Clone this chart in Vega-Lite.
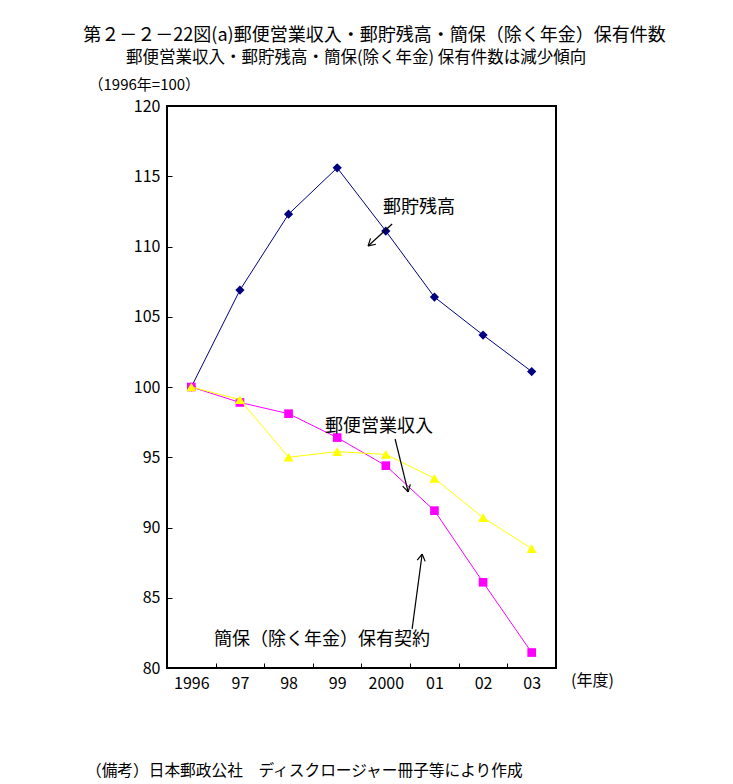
{
  "$schema": "https://vega.github.io/schema/vega-lite/v6.json",
  "width": 389,
  "height": 562,
  "autosize": {"type": "none"},
  "padding": {"left": 167, "top": 106, "right": 177, "bottom": 116},
  "background": "white",
  "config": {
    "font": "Noto Sans CJK JP",
    "view": {"stroke": "black", "strokeWidth": 2},
    "axis": {
      "grid": false,
      "domain": false,
      "labelFont": "Noto Sans CJK JP",
      "labelFontSize": 16,
      "labelColor": "black",
      "tickColor": "black",
      "tickSize": -5,
      "tickWidth": 1,
      "titleFont": "Noto Sans CJK JP",
      "titleFontWeight": "normal",
      "titleColor": "black"
    }
  },
  "title": {
    "text": "第２－２－22図(a)郵便営業収入・郵貯残高・簡保（除く年金）保有件数",
    "font": "Noto Sans CJK JP",
    "fontSize": 18,
    "fontWeight": "normal",
    "color": "black",
    "anchor": "middle",
    "frame": "group",
    "dx": 13,
    "offset": 5
  },
  "datasets": {
    "series": [
      {"series": "郵貯残高", "i": 0, "v": 100},
      {"series": "郵貯残高", "i": 1, "v": 106.9},
      {"series": "郵貯残高", "i": 2, "v": 112.3},
      {"series": "郵貯残高", "i": 3, "v": 115.6},
      {"series": "郵貯残高", "i": 4, "v": 111.1},
      {"series": "郵貯残高", "i": 5, "v": 106.4},
      {"series": "郵貯残高", "i": 6, "v": 103.7},
      {"series": "郵貯残高", "i": 7, "v": 101.1},
      {"series": "郵便営業収入", "i": 0, "v": 100},
      {"series": "郵便営業収入", "i": 1, "v": 98.9},
      {"series": "郵便営業収入", "i": 2, "v": 98.1},
      {"series": "郵便営業収入", "i": 3, "v": 96.4},
      {"series": "郵便営業収入", "i": 4, "v": 94.4},
      {"series": "郵便営業収入", "i": 5, "v": 91.2},
      {"series": "郵便営業収入", "i": 6, "v": 86.1},
      {"series": "郵便営業収入", "i": 7, "v": 81.1},
      {"series": "簡保（除く年金）保有契約", "i": 0, "v": 100},
      {"series": "簡保（除く年金）保有契約", "i": 1, "v": 99.1},
      {"series": "簡保（除く年金）保有契約", "i": 2, "v": 95.0},
      {"series": "簡保（除く年金）保有契約", "i": 3, "v": 95.4},
      {"series": "簡保（除く年金）保有契約", "i": 4, "v": 95.2},
      {"series": "簡保（除く年金）保有契約", "i": 5, "v": 93.5},
      {"series": "簡保（除く年金）保有契約", "i": 6, "v": 90.7},
      {"series": "簡保（除く年金）保有契約", "i": 7, "v": 88.5}
    ],
    "arrows": [
      {"x": 4.130, "y": 111.60, "x2": 3.636, "y2": 110.04},
      {"x": 3.636, "y": 110.04, "x2": 3.796, "y2": 110.16},
      {"x": 3.636, "y": 110.04, "x2": 3.685, "y2": 110.58},
      {"x": 4.191, "y": 96.30, "x2": 4.459, "y2": 92.53},
      {"x": 4.459, "y": 92.53, "x2": 4.504, "y2": 93.07},
      {"x": 4.459, "y": 92.53, "x2": 4.346, "y2": 92.94},
      {"x": 4.541, "y": 82.78, "x2": 4.747, "y2": 88.11},
      {"x": 4.747, "y": 88.11, "x2": 4.646, "y2": 87.67},
      {"x": 4.747, "y": 88.11, "x2": 4.809, "y2": 87.59}
    ],
    "labels": [
      {"x": 3.944, "y": 112.74, "label": "郵貯残高"},
      {"x": 2.751, "y": 97.15, "label": "郵便営業収入"},
      {"x": 0.467, "y": 81.99, "label": "簡保（除く年金）保有契約"}
    ],
    "subtitle": [
      {"x": 3.389, "y": 123.42, "label": "郵便営業収入・郵貯残高・簡保(除く年金) 保有件数は減少傾向"}
    ],
    "footer": [
      {"x": -2.167, "y": 72.67, "label": "（備考）日本郵政公社　ディスクロージャー冊子等により作成"}
    ]
  },
  "layer": [
    {
      "data": {"name": "series"},
      "transform": [{"filter": "datum.series === '郵貯残高'"}],
      "mark": {"type": "line", "color": "#000080", "strokeWidth": 1, "point": {"shape": "diamond", "size": 85, "filled": true, "color": "#000080", "opacity": 1}},
      "encoding": {
        "x": {
          "field": "i", "type": "quantitative",
          "scale": {"domain": [-0.5, 7.5], "nice": false, "zero": false},
          "axis": {
            "values": [0, 1, 2, 3, 4, 5, 6, 7],
            "labelExpr": "['1996','97','98','99','2000','01','02','03'][datum.value]",
            "tickOffset": 24.3,
            "labelOffset": -24.3,
            "labelPadding": 12,
            "labelFlush": false,
            "labelOverlap": false,
            "title": "(年度)",
            "titleFontSize": 16,
            "titleX": 425,
            "titleY": 12,
            "titleAlign": "center",
            "titleBaseline": "middle",
            "titleAnchor": null
          }
        },
        "y": {
          "field": "v", "type": "quantitative",
          "scale": {"domain": [80, 120], "nice": false, "zero": false},
          "axis": {
            "values": [80, 85, 90, 95, 100, 105, 110, 115, 120],
            "labelPadding": 12,
            "labelFlush": false,
            "title": "（1996年=100）",
            "titleFontSize": 15,
            "titleAngle": 0,
            "titleX": -79,
            "titleY": -22,
            "titleAlign": "left",
            "titleBaseline": "middle",
            "titleAnchor": null
          }
        }
      }
    },
    {
      "data": {"name": "series"},
      "transform": [{"filter": "datum.series === '郵便営業収入'"}],
      "mark": {"type": "line", "color": "#FF00FF", "strokeWidth": 1, "point": {"shape": "square", "size": 75, "filled": true, "color": "#FF00FF", "opacity": 1}},
      "encoding": {
        "x": {"field": "i", "type": "quantitative"},
        "y": {"field": "v", "type": "quantitative"}
      }
    },
    {
      "data": {"name": "series"},
      "transform": [{"filter": "datum.series === '簡保（除く年金）保有契約'"}],
      "mark": {"type": "line", "color": "#FFFF00", "strokeWidth": 1, "point": {"shape": "triangle-up", "size": 100, "filled": true, "color": "#FFFF00", "opacity": 1}},
      "encoding": {
        "x": {"field": "i", "type": "quantitative"},
        "y": {"field": "v", "type": "quantitative"}
      }
    },
    {
      "data": {"name": "arrows"},
      "mark": {"type": "rule", "color": "black", "strokeWidth": 1.2},
      "encoding": {
        "x": {"field": "x", "type": "quantitative"},
        "y": {"field": "y", "type": "quantitative"},
        "x2": {"field": "x2"},
        "y2": {"field": "y2"}
      }
    },
    {
      "data": {"name": "labels"},
      "mark": {"type": "text", "align": "left", "baseline": "middle", "fontSize": 18, "color": "black", "font": "Noto Sans CJK JP"},
      "encoding": {
        "x": {"field": "x", "type": "quantitative"},
        "y": {"field": "y", "type": "quantitative"},
        "text": {"field": "label"}
      }
    },
    {
      "data": {"name": "subtitle"},
      "mark": {"type": "text", "align": "center", "baseline": "middle", "fontSize": 16.5, "color": "black", "font": "Noto Sans CJK JP"},
      "encoding": {
        "x": {"field": "x", "type": "quantitative"},
        "y": {"field": "y", "type": "quantitative"},
        "text": {"field": "label"}
      }
    },
    {
      "data": {"name": "footer"},
      "mark": {"type": "text", "align": "left", "baseline": "middle", "fontSize": 15.7, "color": "black", "font": "Noto Sans CJK JP"},
      "encoding": {
        "x": {"field": "x", "type": "quantitative"},
        "y": {"field": "y", "type": "quantitative"},
        "text": {"field": "label"}
      }
    }
  ]
}
